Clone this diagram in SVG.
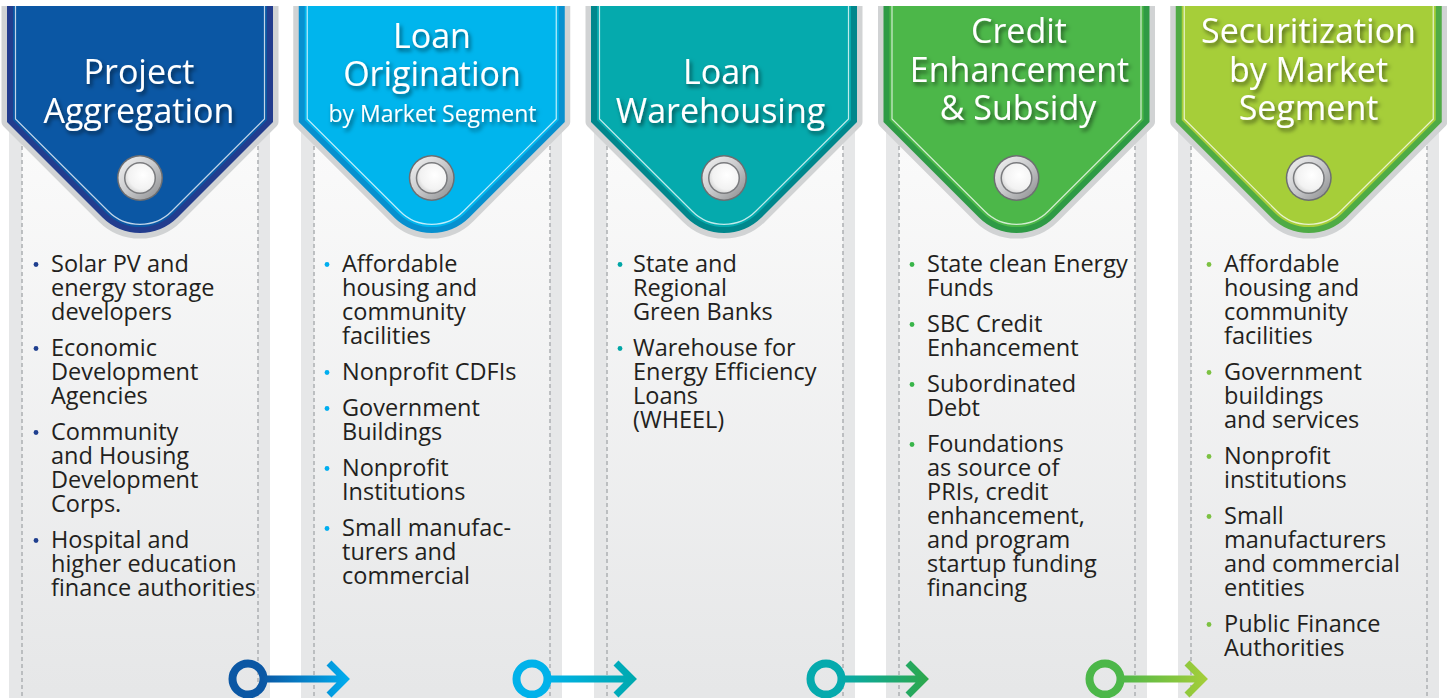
<svg xmlns="http://www.w3.org/2000/svg" width="1447" height="698" viewBox="0 0 1447 698">
<style>
.panel{fill:#e6e7e8}
.inner{fill:url(#panelGrad)}
.dash{stroke:#b1b3b6;stroke-width:1.6;stroke-dasharray:4 3;fill:none}
.border{fill:none;stroke:#d1d3d4;stroke-width:11;stroke-linejoin:round}
.title{font-family:"Open Sans","Noto Sans",sans-serif;font-size:34px;fill:#fff;text-anchor:middle;filter:url(#shadow)}
.sub{font-size:23px}
.body{font-family:"Open Sans","Noto Sans",sans-serif;font-size:23.5px;fill:#231f20}
.hl{fill:none;stroke:#fff;stroke-opacity:0.75;stroke-width:1.2}
</style>
<defs>
<linearGradient id="panelGrad" gradientUnits="userSpaceOnUse" x1="0" y1="150" x2="0" y2="690">
<stop offset="0" stop-color="#fafafa"/><stop offset="1" stop-color="#e6e7e8"/>
</linearGradient>
<linearGradient id="ringGrad" x1="0" y1="0" x2="1" y2="1">
<stop offset="0" stop-color="#f4f4f4"/><stop offset="0.5" stop-color="#c9cacc"/><stop offset="1" stop-color="#8a8b8d"/>
</linearGradient>
<radialGradient id="holeGrad" cx="0.6" cy="0.4" r="0.7">
<stop offset="0" stop-color="#ffffff"/><stop offset="0.7" stop-color="#f2f2f2"/><stop offset="1" stop-color="#cfcfcf"/>
</radialGradient>
<filter id="shadow" x="-10%" y="-20%" width="130%" height="160%">
<feDropShadow dx="2" dy="3" stdDeviation="2" flood-color="#000" flood-opacity="0.55"/>
</filter>
<path id="pen" d="M -133 6 V 122 L -37.5 217.5 A 53 53 0 0 0 37.5 217.5 L 133 122 V 6 Z"/>
<path id="penIn" d="M -127 6 V 120 L -33.9 213.1 A 48 48 0 0 0 33.9 213.1 L 127 120 V 6 Z"/>
<path id="penHl" d="M -124.5 0 V 119 L -32 211 A 45 45 0 0 0 32 211 L 124.5 119 V 0"/>
<g id="grommet">
<circle r="23" fill="#6d6e71"/>
<circle r="21.5" fill="url(#ringGrad)"/>
<circle r="16" fill="#7a7b7e"/>
<circle r="14.5" fill="url(#holeGrad)"/>
</g>
<linearGradient id="a1" gradientUnits="userSpaceOnUse" x1="262" y1="0" x2="350" y2="0"><stop offset="0" stop-color="#0b57a4"/><stop offset="1" stop-color="#00aeef"/></linearGradient>
<linearGradient id="a2" gradientUnits="userSpaceOnUse" x1="546" y1="0" x2="637" y2="0"><stop offset="0" stop-color="#00b2ea"/><stop offset="1" stop-color="#00a9ad"/></linearGradient>
<linearGradient id="a3" gradientUnits="userSpaceOnUse" x1="840" y1="0" x2="929" y2="0"><stop offset="0" stop-color="#05aaad"/><stop offset="1" stop-color="#2ea84a"/></linearGradient>
<linearGradient id="a4" gradientUnits="userSpaceOnUse" x1="1119" y1="0" x2="1208" y2="0"><stop offset="0" stop-color="#4cb749"/><stop offset="1" stop-color="#a6ce39"/></linearGradient>
</defs>
<rect width="1447" height="698" fill="#fff"/>

<g id="col1">
<rect class="panel" x="9" y="6" width="261" height="692"/>
<rect class="inner" x="22" y="6" width="236" height="692"/>
<line class="dash" x1="22" y1="6" x2="22" y2="698"/><line class="dash" x1="258" y1="6" x2="258" y2="698"/>
<g transform="translate(140,0)">
<use href="#pen" class="border"/>
<use href="#pen" fill="#233d8e"/>
<use href="#penIn" fill="#0b57a4"/>
<use href="#penHl" class="hl"/>
<use href="#grommet" y="178"/>
</g>
<text class="title"><tspan x="139" y="84">Project</tspan><tspan x="139" y="123">Aggregation</tspan></text>
<g fill="#1f3f8f"><circle cx="36" cy="264.5" r="2.4"/><circle cx="36" cy="348.5" r="2.4"/><circle cx="36" cy="432.5" r="2.4"/><circle cx="36" cy="540.5" r="2.4"/></g>
<text class="body"><tspan x="51" y="272">Solar PV and</tspan><tspan x="51" y="296">energy storage</tspan><tspan x="51" y="320">developers</tspan></text>
<text class="body"><tspan x="51" y="356">Economic</tspan><tspan x="51" y="380">Development</tspan><tspan x="51" y="404">Agencies</tspan></text>
<text class="body"><tspan x="51" y="440">Community</tspan><tspan x="51" y="464">and Housing</tspan><tspan x="51" y="488">Development</tspan><tspan x="51" y="512">Corps.</tspan></text>
<text class="body"><tspan x="51" y="548">Hospital and</tspan><tspan x="51" y="572">higher education</tspan><tspan x="51" y="596">finance authorities</tspan></text>
</g>

<g id="col2">
<rect class="panel" x="301" y="6" width="261" height="692"/>
<rect class="inner" x="314" y="6" width="236" height="692"/>
<line class="dash" x1="314" y1="6" x2="314" y2="698"/><line class="dash" x1="550" y1="6" x2="550" y2="698"/>
<g transform="translate(431.75,0)">
<use href="#pen" class="border"/>
<use href="#pen" fill="#0790cf"/>
<use href="#penIn" fill="#00b5ed"/>
<use href="#penHl" class="hl"/>
<use href="#grommet" y="178"/>
</g>
<text class="title"><tspan x="432" y="48">Loan</tspan><tspan x="432" y="86">Origination</tspan><tspan class="sub" x="432.5" y="122">by Market Segment</tspan></text>
<g fill="#00aeef"><circle cx="327" cy="264.5" r="2.4"/><circle cx="327" cy="372.5" r="2.4"/><circle cx="327" cy="408.5" r="2.4"/><circle cx="327" cy="468.5" r="2.4"/><circle cx="327" cy="528.5" r="2.4"/></g>
<text class="body"><tspan x="342" y="272">Affordable</tspan><tspan x="342" y="296">housing and</tspan><tspan x="342" y="320">community</tspan><tspan x="342" y="344">facilities</tspan></text>
<text class="body" x="342" y="380">Nonprofit CDFIs</text>
<text class="body"><tspan x="342" y="416">Government</tspan><tspan x="342" y="440">Buildings</tspan></text>
<text class="body"><tspan x="342" y="476">Nonprofit</tspan><tspan x="342" y="500">Institutions</tspan></text>
<text class="body"><tspan x="342" y="536">Small manufac-</tspan><tspan x="342" y="560">turers and</tspan><tspan x="342" y="584">commercial</tspan></text>
</g>

<g id="col3">
<rect class="panel" x="594" y="6" width="261" height="692"/>
<rect class="inner" x="607" y="6" width="236" height="692"/>
<line class="dash" x1="607" y1="6" x2="607" y2="698"/><line class="dash" x1="843" y1="6" x2="843" y2="698"/>
<g transform="translate(724,0)">
<use href="#pen" class="border"/>
<use href="#pen" fill="#00878c"/>
<use href="#penIn" fill="#05aaad"/>
<use href="#penHl" class="hl"/>
<use href="#grommet" y="178"/>
</g>
<text class="title"><tspan x="722" y="84">Loan</tspan><tspan x="720.5" y="123">Warehousing</tspan></text>
<g fill="#00a6a6"><circle cx="620" cy="264.5" r="2.4"/><circle cx="620" cy="348.5" r="2.4"/></g>
<text class="body"><tspan x="633" y="272">State and</tspan><tspan x="633" y="296">Regional</tspan><tspan x="633" y="320">Green Banks</tspan></text>
<text class="body"><tspan x="633" y="356">Warehouse for</tspan><tspan x="633" y="380">Energy Efficiency</tspan><tspan x="633" y="404">Loans</tspan><tspan x="633" y="428">(WHEEL)</tspan></text>
</g>

<g id="col4">
<rect class="panel" x="886" y="6" width="261" height="692"/>
<rect class="inner" x="899" y="6" width="236" height="692"/>
<line class="dash" x1="899" y1="6" x2="899" y2="698"/><line class="dash" x1="1135" y1="6" x2="1135" y2="698"/>
<g transform="translate(1016.5,0)">
<use href="#pen" class="border"/>
<use href="#pen" fill="#2e9a45"/>
<use href="#penIn" fill="#4cb749"/>
<use href="#penHl" class="hl"/>
<use href="#grommet" y="178"/>
</g>
<text class="title"><tspan x="1019" y="43">Credit</tspan><tspan x="1019.5" y="82">Enhancement</tspan><tspan x="1018" y="120">&amp; Subsidy</tspan></text>
<g fill="#39b54a"><circle cx="912" cy="264.5" r="2.4"/><circle cx="912" cy="324.5" r="2.4"/><circle cx="912" cy="384.5" r="2.4"/><circle cx="912" cy="444.5" r="2.4"/></g>
<text class="body"><tspan x="927" y="272">State clean Energy</tspan><tspan x="927" y="296">Funds</tspan></text>
<text class="body"><tspan x="927" y="332">SBC Credit</tspan><tspan x="927" y="356">Enhancement</tspan></text>
<text class="body"><tspan x="927" y="392">Subordinated</tspan><tspan x="927" y="416">Debt</tspan></text>
<text class="body"><tspan x="927" y="452">Foundations</tspan><tspan x="927" y="476">as source of</tspan><tspan x="927" y="500">PRIs, credit</tspan><tspan x="927" y="524">enhancement,</tspan><tspan x="927" y="548">and program</tspan><tspan x="927" y="572">startup funding</tspan><tspan x="927" y="596">financing</tspan></text>
</g>

<g id="col5">
<rect class="panel" x="1178" y="6" width="261" height="692"/>
<rect class="inner" x="1191" y="6" width="236" height="692"/>
<line class="dash" x1="1191" y1="6" x2="1191" y2="698"/><line class="dash" x1="1427" y1="6" x2="1427" y2="698"/>
<g transform="translate(1308.75,0)">
<use href="#pen" class="border"/>
<use href="#pen" fill="#4fab45"/>
<use href="#penIn" fill="#a6ce39"/>
<use href="#penHl" class="hl"/>
<use href="#grommet" y="178"/>
</g>
<text class="title"><tspan x="1308.5" y="43">Securitization</tspan><tspan x="1308.5" y="82">by Market</tspan><tspan x="1308.5" y="120">Segment</tspan></text>
<g fill="#7cc142"><circle cx="1209" cy="264.5" r="2.4"/><circle cx="1209" cy="372.5" r="2.4"/><circle cx="1209" cy="456.5" r="2.4"/><circle cx="1209" cy="516.5" r="2.4"/><circle cx="1209" cy="624.5" r="2.4"/></g>
<text class="body"><tspan x="1224" y="272">Affordable</tspan><tspan x="1224" y="296">housing and</tspan><tspan x="1224" y="320">community</tspan><tspan x="1224" y="344">facilities</tspan></text>
<text class="body"><tspan x="1224" y="380">Government</tspan><tspan x="1224" y="404">buildings</tspan><tspan x="1224" y="428">and services</tspan></text>
<text class="body"><tspan x="1224" y="464">Nonprofit</tspan><tspan x="1224" y="488">institutions</tspan></text>
<text class="body"><tspan x="1224" y="524">Small</tspan><tspan x="1224" y="548">manufacturers</tspan><tspan x="1224" y="572">and commercial</tspan><tspan x="1224" y="596">entities</tspan></text>
<text class="body"><tspan x="1224" y="632">Public Finance</tspan><tspan x="1224" y="656">Authorities</tspan></text>
</g>

<rect x="0" y="0" width="1447" height="6" fill="#fff"/>

<g id="connectors" fill="none" stroke-linecap="butt" stroke-linejoin="miter">
<circle cx="248" cy="679" r="15.5" stroke="#0b57a4" stroke-width="8"/>
<path d="M 263 679 H 345 M 329 663 L 345 679 L 329 695" stroke="url(#a1)" stroke-width="7"/>
<circle cx="532" cy="679" r="15.5" stroke="#00b2ea" stroke-width="8"/>
<path d="M 547 679 H 632 M 616 663 L 632 679 L 616 695" stroke="url(#a2)" stroke-width="7"/>
<circle cx="826" cy="679" r="15.5" stroke="#05aaad" stroke-width="8"/>
<path d="M 841 679 H 924 M 908 663 L 924 679 L 908 695" stroke="url(#a3)" stroke-width="7"/>
<circle cx="1105" cy="679" r="15.5" stroke="#4cb749" stroke-width="8"/>
<path d="M 1120 679 H 1203 M 1187 663 L 1203 679 L 1187 695" stroke="url(#a4)" stroke-width="7"/>
</g>
</svg>
